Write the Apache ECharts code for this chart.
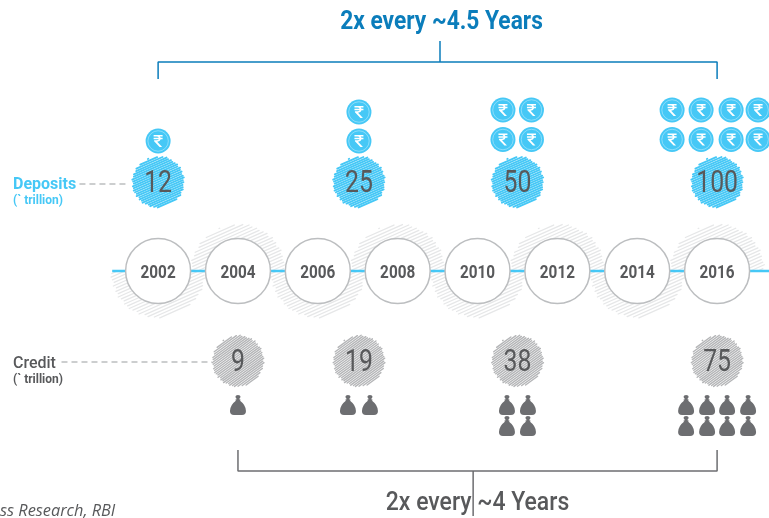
<!DOCTYPE html>
<html>
<head>
<meta charset="utf-8">
<style>
  html, body { margin: 0; padding: 0; background: #fff; }
  #chart { width: 769px; height: 518px; }
</style>
<script src="https://cdn.jsdelivr.net/npm/echarts@6/dist/echarts.min.js"></script>
</head>
<body>
<div id="chart"></div>
<script>
const years = [2002, 2004, 2006, 2008, 2010, 2012, 2014, 2016];
const haloSides = [0, 1, 0, 1, 0, 1, 0, 1]; // 0 lower half, 1 upper half

const depositYears = [2002, 2007.03, 2011, 2016];
const depositValues = [12, 25, 50, 100];
const coinCounts = [1, 2, 4, 8];

const creditYears = [2004, 2007.03, 2011, 2016];
const creditValues = [9, 19, 38, 75];
const bagCounts = [1, 2, 4, 8];

// vertical rows, the y axis runs 0..518 top down
const ROW_TOP_BRACKET = 62;
const ROW_DEPOSITS = 182;
const ROW_TIMELINE = 271;
const ROW_CREDIT = 361;
const ROW_BOTTOM_BRACKET = 471;

const BLUE = '#46c8f6';
const TITLE_BLUE = '#0b7dbb';
const DARK = '#58595b';
const BAG = '#6d6e71';
const FONT = 'Roboto';

const RUPEE = 'path://M1 0H10V1.6H7.2Q7.9 2.3 8.1 3.2H10V4.8H8.1Q7.6 7.2 4.6 7.6L9.5 13.5H7L1.5 7V5.8H4Q5.8 5.8 6.2 4.8H1V3.2H6.2Q5.8 1.6 4 1.6H1Z';
const MONEY_BAG = 'path://M5.5 1.5Q5.5 0 8 0Q10.5 0 10.5 1.5Q10.5 3 9.5 3.6V4.4H10.5V5.4H9.8Q16 10 16 16Q16 20 12 20H4Q0 20 0 16Q0 10 6.2 5.4H5.5V4.4H6.5V3.6Q5.5 3 5.5 1.5Z';

// uneven stroke ends for the scribbled discs
const JITTER = [0, 1.6, -1, 2.2, -0.4, 1, -1.6, 0.6, 1.9, -0.8, 0.3, -1.3];

// a disc made of slanted strokes, half: undefined full, 0 lower, 1 upper
function scribble(cx, cy, o, half) {
  const a = o.angle * Math.PI / 180;
  const ux = Math.cos(a), uy = -Math.sin(a);
  const nx = -uy, ny = ux;
  const lines = [];
  let i = 0;
  for (let d = -o.r; d <= o.r; d += o.gap, i++) {
    const s = Math.sqrt(Math.max(o.r * o.r - d * d, 0));
    let t0 = -s + JITTER[i % JITTER.length] * o.jit;
    let t1 = s + JITTER[(i + 5) % JITTER.length] * o.jit;
    if (half !== undefined) {
      // keep only the part of the stroke on the wanted side of the timeline
      const tc = -d * ny / uy;
      if (half === 0) t1 = Math.min(t1, tc);
      else t0 = Math.max(t0, tc);
      if (t1 <= t0) continue;
    }
    lines.push({
      type: 'line',
      shape: {
        x1: cx + d * nx + t0 * ux, y1: cy + d * ny + t0 * uy,
        x2: cx + d * nx + t1 * ux, y2: cy + d * ny + t1 * uy
      },
      style: { stroke: o.color, lineWidth: o.lw, lineCap: 'round' }
    });
  }
  return lines;
}

function squeezedText(text, x, y, size, color, sx, extra) {
  return {
    type: 'text',
    x: x,
    y: y,
    scaleX: sx,
    z: 50,
    style: Object.assign({
      text: String(text),
      fill: color,
      fontFamily: FONT,
      fontSize: size,
      align: 'center',
      verticalAlign: 'middle'
    }, extra || {})
  };
}

function discRenderer(o) {
  return (params, api) => {
    const c = api.coord([api.value(0), api.value(1)]);
    return {
      type: 'group',
      children: scribble(c[0], c[1], o).concat([
        squeezedText(api.value(2), c[0], c[1] + 2, 31, DARK, 0.8)
      ])
    };
  };
}

// where the icons sit around each circle
const coinOffsets = { 1: [0], 2: [0], 4: [-14.5, 14], 8: [-45, -16, 14, 41] };
const bagOffsets = { 1: [0], 2: [-11, 11], 4: [-10.5, 10.5], 8: [-31, -10, 10, 31] };

function iconPoints(xs, counts, offsets, rowsFor) {
  const pts = [];
  xs.forEach((yr, i) => {
    const n = counts[i];
    rowsFor(n).forEach((row) => {
      offsets[n].forEach((dx) => {
        pts.push({ value: [yr, row], symbolOffset: [dx, 0] });
      });
    });
  });
  return pts;
}

const coins = iconPoints(depositYears, coinCounts, coinOffsets, (n) => (n === 1 ? [141] : n === 2 ? [141, 112] : [139.5, 110]));
const bags = iconPoints(creditYears, bagCounts, bagOffsets, (n) => (n > 2 ? [405, 426] : [405]));

const chart = echarts.init(document.getElementById('chart'));

chart.setOption({
  animation: false,
  backgroundColor: '#fff',
  grid: { left: 0, right: 0, top: 0, bottom: 0 },
  xAxis: { type: 'value', min: 1998.04, max: 2017.3, show: false },
  yAxis: { type: 'value', min: 0, max: 518, inverse: true, show: false },
  graphic: [
    squeezedText('2x every ~4.5 Years', 441.5, 22.5, 25, TITLE_BLUE, 0.91, { fontWeight: 'bold' }),
    squeezedText('2x every ~4 Years', 477.5, 503.5, 25, DARK, 0.92, { fontWeight: 500 }),
    squeezedText('Deposits', 13, 184.5, 16, BLUE, 1, { fontWeight: 'bold', align: 'left' }),
    squeezedText('(` trillion)', 13, 200.5, 12, BLUE, 1, { fontWeight: 'bold', align: 'left' }),
    squeezedText('Credit', 13, 363.5, 16, DARK, 1, { fontWeight: 500, align: 'left' }),
    squeezedText('(` trillion)', 13, 379.5, 12, DARK, 1, { fontWeight: 'bold', align: 'left' }),
    squeezedText('ss Research, RBI', 0, 511, 16, DARK, 1.02, { fontStyle: 'italic', fontFamily: 'Open Sans', align: 'left' })
  ],
  series: [
    {
      type: 'custom',
      z: 1,
      clip: false,
      silent: true,
      data: years.map((y, i) => [y, ROW_TIMELINE, haloSides[i]]),
      renderItem: (params, api) => {
        const c = api.coord([api.value(0), api.value(1)]);
        return {
          type: 'group',
          children: scribble(c[0], c[1], { r: 46.5, gap: 3, lw: 1.3, angle: 24, color: '#e6e7e8', jit: 0.7 }, api.value(2))
        };
      }
    },
    {
      // timeline
      type: 'line',
      z: 2,
      silent: true,
      symbol: 'none',
      lineStyle: { color: BLUE, width: 2.5 },
      data: [[2000.85, ROW_TIMELINE], [2017.3, ROW_TIMELINE]]
    },
    {
      type: 'custom',
      z: 3,
      clip: false,
      silent: true,
      data: years.map((y) => [y, ROW_TIMELINE, y]),
      renderItem: (params, api) => {
        const c = api.coord([api.value(0), api.value(1)]);
        return {
          type: 'group',
          children: [
            {
              type: 'circle',
              shape: { cx: c[0], cy: c[1], r: 32.5 },
              style: { fill: '#fff', stroke: '#bcbec0', lineWidth: 1.5 }
            },
            squeezedText(api.value(2), c[0], c[1] + 2, 18, DARK, 0.85, { fontWeight: 'bold' })
          ]
        };
      }
    },
    {
      // deposits
      type: 'custom',
      z: 4,
      clip: false,
      silent: true,
      renderItem: discRenderer({ r: 25.2, gap: 2.1, lw: 1.85, angle: 24, color: BLUE, jit: 0.5 }),
      data: depositYears.map((y, i) => [y, ROW_DEPOSITS, depositValues[i]])
    },
    {
      // credit
      type: 'custom',
      z: 4,
      clip: false,
      silent: true,
      renderItem: discRenderer({ r: 25.2, gap: 1.9, lw: 1.4, angle: 36, color: '#b4b5b7', jit: 0.5 }),
      data: creditYears.map((y, i) => [y, ROW_CREDIT, creditValues[i]])
    },
    {
      type: 'scatter',
      z: 5,
      symbolSize: 25,
      itemStyle: { color: BLUE, opacity: 1 },
      data: coins
    },
    {
      // thin ring inside every coin
      type: 'scatter',
      z: 6,
      symbolSize: 20.5,
      itemStyle: { color: 'transparent', borderColor: '#9be2fb', borderWidth: 0.8, opacity: 1 },
      data: coins
    },
    {
      type: 'scatter',
      z: 7,
      symbol: RUPEE,
      symbolSize: [9, 12],
      itemStyle: { color: '#fff', opacity: 1 },
      data: coins
    },
    {
      type: 'scatter',
      z: 5,
      symbol: MONEY_BAG,
      symbolSize: [16, 20],
      itemStyle: { color: BAG, opacity: 1 },
      data: bags
    },
    {
      // top bracket
      type: 'line',
      z: 5,
      silent: true,
      symbol: 'none',
      lineStyle: { color: TITLE_BLUE, width: 1.5 },
      data: [[2002, 79], [2002, ROW_TOP_BRACKET], [2016, ROW_TOP_BRACKET], [2016, 79], '-', [2009.06, ROW_TOP_BRACKET], [2009.06, 41]]
    },
    {
      // bottom bracket
      type: 'line',
      z: 5,
      silent: true,
      symbol: 'none',
      lineStyle: { color: BAG, width: 1.5 },
      data: [[2004, 450], [2004, ROW_BOTTOM_BRACKET], [2016, ROW_BOTTOM_BRACKET], [2016, 450], '-', [2009.89, ROW_BOTTOM_BRACKET], [2009.89, 516]]
    },
    {
      // leader from the Deposits label
      type: 'line',
      z: 2,
      silent: true,
      symbol: 'none',
      lineStyle: { color: '#bcbec0', width: 1.5, type: [6, 4] },
      data: [[2000.03, ROW_DEPOSITS + 2], [2001.25, ROW_DEPOSITS + 2]]
    },
    {
      // leader from the Credit label
      type: 'line',
      z: 2,
      silent: true,
      symbol: 'none',
      lineStyle: { color: '#bcbec0', width: 1.5, type: [6, 4] },
      data: [[1999.58, ROW_CREDIT + 1], [2003.35, ROW_CREDIT + 1]]
    }
  ]
});
</script>
</body>
</html>
